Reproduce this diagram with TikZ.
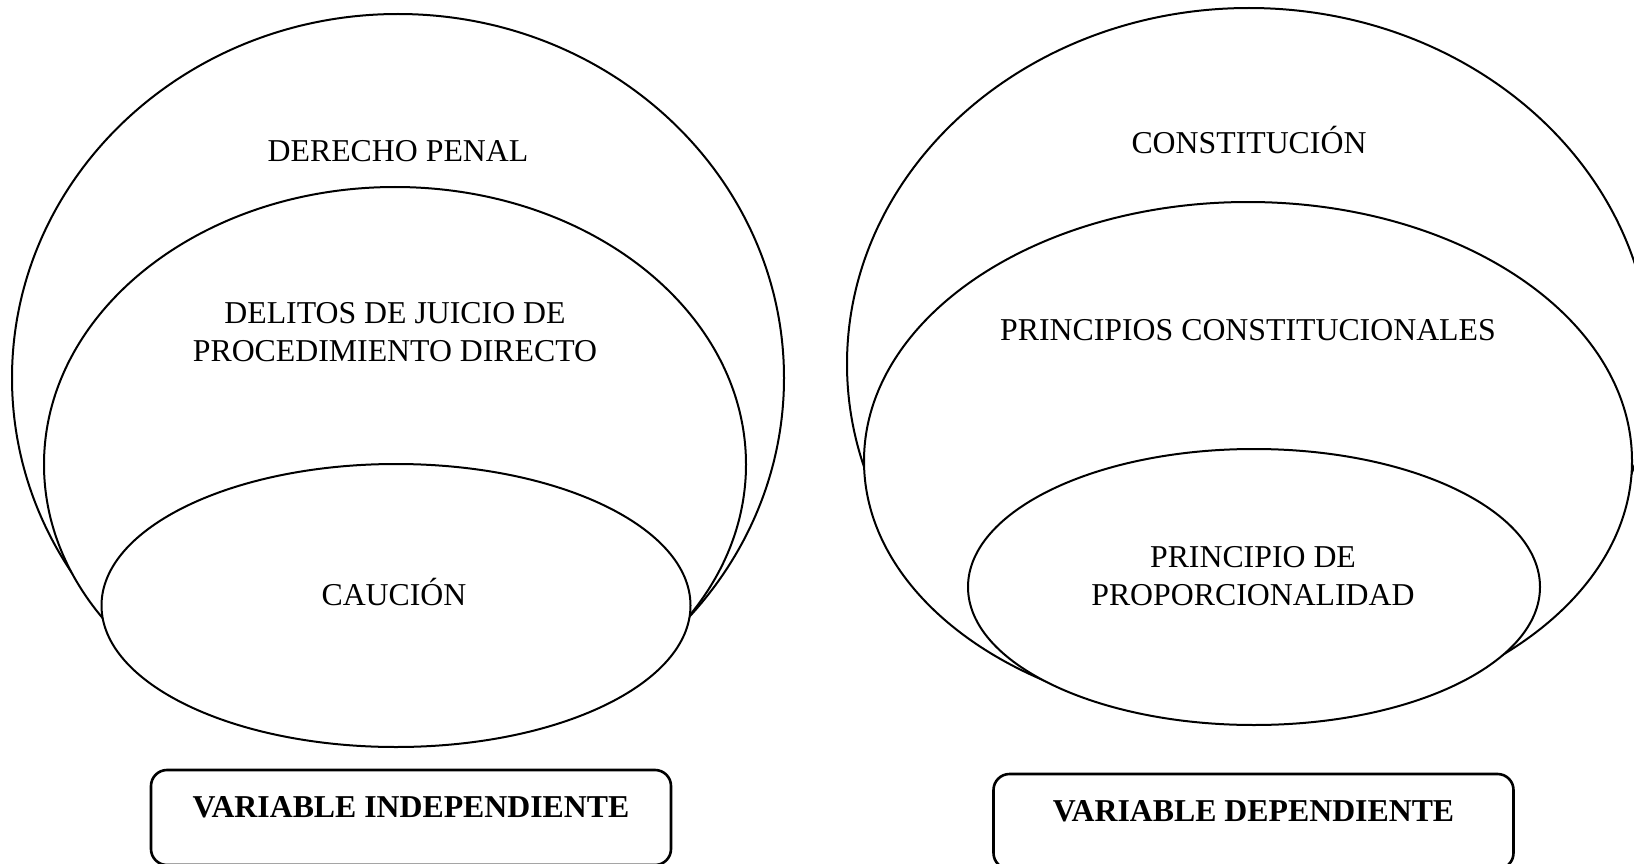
\documentclass[tikz,border=0pt]{standalone}
\usepackage{fontspec}
\setmainfont{Liberation Serif}
\usepackage{tikz}

\begin{document}
\begin{tikzpicture}[x=1pt,y=-1pt,
  bubble/.style={draw,fill=white,line width=2pt},
  txt/.style={font=\fontsize{31.8}{38}\selectfont,align=center,inner sep=0pt},
  varbox/.style={draw,rounded corners=16pt,line width=2.6pt,inner sep=0pt,minimum width=520pt,text height=47pt,text depth=48pt,anchor=base,font=\fontsize{31.8}{38}\selectfont\bfseries}]
\useasboundingbox (0,0) rectangle (1634,864);
% left side
\draw[bubble] (398,378) ellipse [x radius=386, y radius=364];
\draw[bubble] (395,464.5) ellipse [x radius=351, y radius=277.5];
\draw[bubble] (396,605.5) ellipse [x radius=294.5, y radius=141.5];
\node[txt,anchor=base] (penal) at (398,162) {DERECHO PENAL};
\node[txt] (delitos) at (395,332.5) {DELITOS DE JUICIO DE\\PROCEDIMIENTO DIRECTO};
\node[txt,anchor=base] (caucion) at (394,605) {CAUCIÓN};
% right side
\draw[bubble] (1249,364) ellipse [x radius=402, y radius=356];
\draw[bubble] (1248,461) ellipse [x radius=384, y radius=259];
\draw[bubble] (1254,587) ellipse [x radius=286, y radius=138];
\node[txt,anchor=base] (const) at (1249,154) {CONSTITUCIÓN};
\node[txt,anchor=base] (princ) at (1248,340) {PRINCIPIOS CONSTITUCIONALES};
\node[txt] (proporc) at (1253,576) {PRINCIPIO DE\\PROPORCIONALIDAD};
% variables
\node[varbox] (vind) at (411,817) {VARIABLE INDEPENDIENTE};
\node[varbox] (vdep) at (1253.5,821) {VARIABLE DEPENDIENTE};
\end{tikzpicture}
\end{document}
